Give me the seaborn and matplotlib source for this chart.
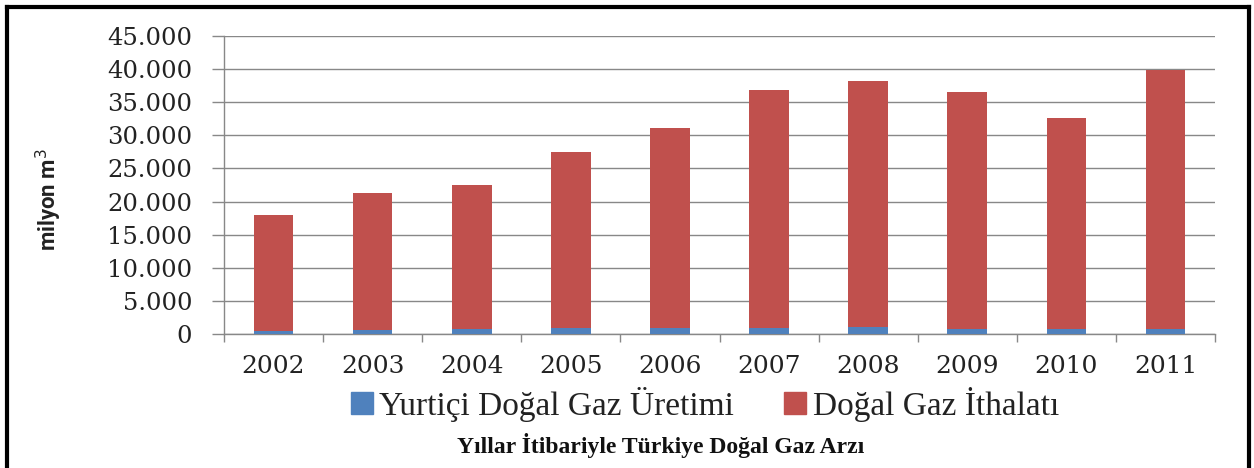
import matplotlib
matplotlib.use("Agg")
import matplotlib.pyplot as plt
import seaborn as sns
import pandas as pd
from matplotlib.patches import Rectangle
from matplotlib.lines import Line2D
from matplotlib.ticker import FuncFormatter, FixedLocator

years = ["2002", "2003", "2004", "2005", "2006", "2007", "2008", "2009", "2010", "2011"]
uretim = [378, 561, 708, 896, 907, 893, 1015, 729, 682, 759]
ithalat = [17550, 20800, 21800, 26550, 30250, 35900, 37150, 35850, 31950, 39100]
series_names = ["Yurtiçi Doğal Gaz Üretimi", "Doğal Gaz İthalatı"]
colors = ["#4F81BD", "#C0504D"]
y_label = "milyon m$^3$"
title = "Yıllar İtibariyle Türkiye Doğal Gaz Arzı"

df = pd.DataFrame({"year": years, "uretim": uretim, "ithalat": ithalat})
df["toplam"] = df["uretim"] + df["ithalat"]

sns.set_theme(style="white")
plt.rcParams["font.family"] = ["DejaVu Sans"]

fig = plt.figure(figsize=(12.54, 4.68), dpi=100)
ax = fig.add_axes([224/1254, 1-334/468, (1215-224)/1254, (334-36)/468])

sns.barplot(data=df, x="year", y="toplam", color=colors[1], saturation=1,
            width=0.4, ax=ax, linewidth=0, zorder=3)
sns.barplot(data=df, x="year", y="uretim", color=colors[0], saturation=1,
            width=0.4, ax=ax, linewidth=0, zorder=4)

ax.set_xlim(-0.5, len(years) - 0.5)
ax.set_ylim(0, 45000)
ax.set_yticks(range(0, 45001, 5000))
ax.yaxis.set_major_formatter(FuncFormatter(lambda v, p: f"{int(v):,}".replace(",", ".")))
ax.grid(axis="y", color="#888888", linewidth=1.0, zorder=0)
ax.set_axisbelow(True)
ax.set_xlabel("")
ax.set_ylabel("")

for s in ["top", "right"]:
    ax.spines[s].set_visible(False)
for s in ["left", "bottom"]:
    ax.spines[s].set_color("#888888")
    ax.spines[s].set_linewidth(1.0)

ax.tick_params(axis="y", which="major", length=9, width=1, color="#888888",
               direction="out", left=True, pad=14)
ax.tick_params(axis="x", which="major", length=0, pad=15)
ax.xaxis.set_minor_locator(FixedLocator([i - 0.5 for i in range(len(years) + 1)]))
ax.tick_params(axis="x", which="minor", length=6, width=1, color="#888888",
               direction="out", bottom=True)

for lab in ax.get_yticklabels():
    lab.set_fontfamily("DejaVu Serif")
    lab.set_fontsize(17.5)
    lab.set_color("#222222")
for lab in ax.get_xticklabels():
    lab.set_fontfamily("DejaVu Serif")
    lab.set_fontsize(18)
    lab.set_color("#222222")

fig.text(49/1254, 1-200/468, y_label, rotation=90, ha="center", va="center",
         fontsize=16, fontweight="bold", family="Roboto", color="#222222")

handles = [Rectangle((0, 0), 1, 1, color=c) for c in colors]
fig.legend(handles, series_names, loc="center", bbox_to_anchor=(705/1254, 1-404/468),
           ncol=2, frameon=False, prop={"family": "Liberation Serif", "size": 24},
           handlelength=0.65, handleheight=0.65, handletextpad=0.2, columnspacing=1.5,
           labelcolor="#222222")

fig.text(661/1254, 1-445/468, title, ha="center", va="center",
         fontsize=17, fontweight="bold", family="Liberation Serif", color="#111111")

lx, rx, ty = 7/1254, 1249/1254, 1-7/468
for xs, ys in [([lx, lx], [0, ty]), ([lx, rx], [ty, ty]), ([rx, rx], [ty, 0])]:
    fig.lines.append(Line2D(xs, ys, transform=fig.transFigure, color="black",
                            linewidth=3, solid_capstyle="projecting"))

fig.savefig("out.png", dpi=100, facecolor="white")
